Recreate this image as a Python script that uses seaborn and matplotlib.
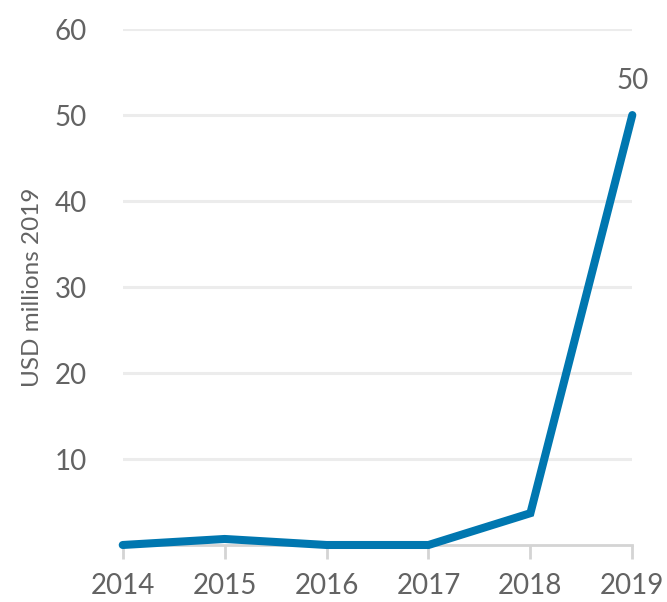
import matplotlib
matplotlib.use("Agg")
import matplotlib.pyplot as plt
import pandas as pd
import seaborn as sns

years = [2014, 2015, 2016, 2017, 2018, 2019]
values = [0.0, 0.7, 0.0, 0.0, 3.7, 50.0]
y_ticks = [10, 20, 30, 40, 50, 60]

LINE_COLOR = "#0077b0"
TEXT_COLOR = "#636363"

sns.set_theme(style="white")
plt.rcParams["font.family"] = ["Lato", "DejaVu Sans"]

df = pd.DataFrame({"year": years, "value": values})

fig = plt.figure(figsize=(6.67, 6.02), dpi=100)
ax = fig.add_axes([0.184, 0.0947, 0.764, 0.857])

for t in y_ticks:
    ax.axhline(t, color="#ececec", lw=2.2, zorder=0)

sns.lineplot(data=df, x="year", y="value", ax=ax, color=LINE_COLOR,
             linewidth=5.8, solid_capstyle="round", solid_joinstyle="miter",
             clip_on=False, zorder=3)

ax.set_xlim(2014, 2019)
ax.set_ylim(0, 60)
ax.set_xticks(years)
ax.set_xticklabels([str(y) for y in years])
ax.set_yticks(y_ticks)

for s in ["top", "right", "left"]:
    ax.spines[s].set_visible(False)
ax.spines["bottom"].set_color("#d4d4d4")
ax.spines["bottom"].set_linewidth(2)

ax.tick_params(axis="x", bottom=True, length=10, width=2, color="#d4d4d4",
               labelsize=20, labelcolor=TEXT_COLOR, pad=10)
ax.tick_params(axis="y", left=False, labelsize=20, labelcolor=TEXT_COLOR, pad=20)

ax.set_xlabel("")
ax.set_ylabel("USD millions 2019", fontsize=17.5, color=TEXT_COLOR, labelpad=8)

ax.annotate(f"{values[-1]:.0f}", xy=(years[-1], values[-1]), xytext=(0, 15),
            textcoords="offset points", ha="center", va="bottom",
            fontsize=20, color=TEXT_COLOR)

fig.savefig("out.png", dpi=100)
